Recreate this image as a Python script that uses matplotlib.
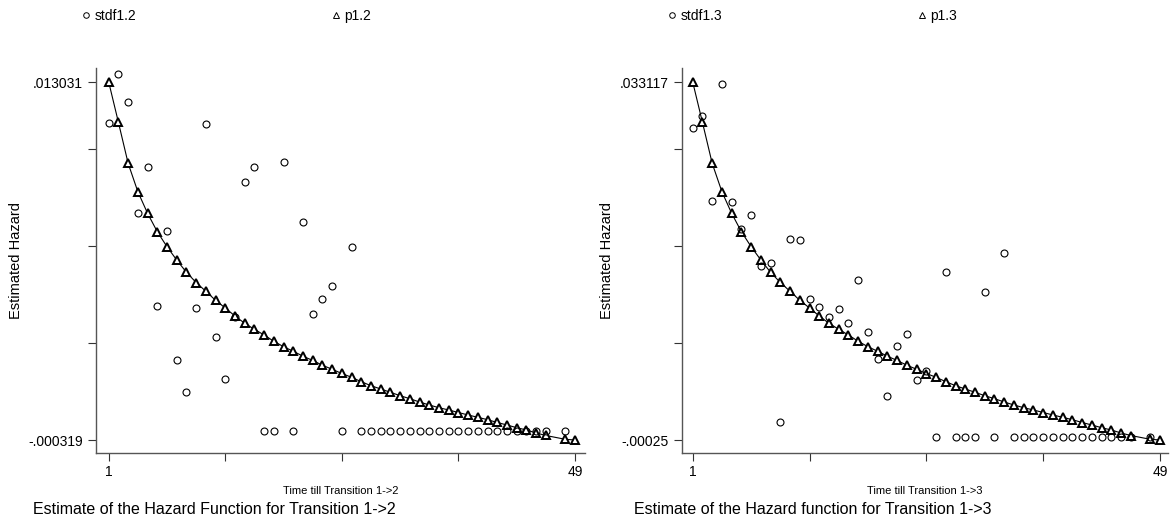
import matplotlib
matplotlib.use("Agg")
import matplotlib.pyplot as plt
from matplotlib.lines import Line2D
import numpy as np

plt.rcParams['font.family'] = ['Liberation Sans', 'DejaVu Sans']

nan = np.nan
t = np.arange(1, 50)

# transition 1->2
stdf12 = [0.011491, 0.013329, 0.012296, 0.008135, 0.009872, 0.004689, 0.007475,
          0.002664, 0.001471, 0.004603, 0.011453, 0.003533, 0.001956, 0.004268,
          0.009291, 0.009872, 0.0, 0.0, 0.010059, 0.0, 0.007799, 0.004380,
          0.004928, 0.005424, 0.0, 0.006889, 0.0, 0.0, 0.0, 0.0, 0.0, 0.0,
          0.0, 0.0, 0.0, 0.0, 0.0, 0.0, 0.0, 0.0, 0.0, 0.0, 0.0, 0.0, 0.0,
          0.0, nan, 0.0, nan]
p12 = [0.013031, 0.011528, 0.009999, 0.008940, 0.008135, 0.007449, 0.006889,
       0.006393, 0.005935, 0.005554, 0.005226, 0.004890, 0.004603, 0.004305,
       0.004033, 0.003809, 0.003596, 0.003362, 0.003160, 0.002989, 0.002806,
       0.002646, 0.002470, 0.002317, 0.002161, 0.002019, 0.001855, 0.001706,
       0.001583, 0.001460, 0.001333, 0.001221, 0.001098, 0.000986, 0.000885,
       0.000800, 0.000706, 0.000613, 0.000527, 0.000438, 0.000334, 0.000240,
       0.000140, 0.000054, -0.000058, -0.000151, nan, -0.000293, -0.000319]

# transition 1->3
stdf13 = [0.028802, 0.029976, 0.022026, 0.032903, 0.021905, 0.019416, 0.020721,
          0.015968, 0.016219, 0.001456, 0.018484, 0.018363, 0.012873, 0.012146,
          0.011186, 0.011960, 0.010627, 0.014709, 0.009844, 0.007272, 0.003851,
          0.008539, 0.009630, 0.005342, 0.006209, 0.0, 0.015436, 0.0, 0.0, 0.0,
          0.013498, 0.0, 0.017151, 0.0, 0.0, 0.0, 0.0, 0.0, 0.0, 0.0, 0.0,
          0.0, 0.0, 0.0, 0.0, 0.0, nan, 0.0, nan]
p13 = [0.033117, 0.029361, 0.025540, 0.022892, 0.020879, 0.019165, 0.017766,
       0.016527, 0.015380, 0.014430, 0.013609, 0.012771, 0.012053, 0.011307,
       0.010627, 0.010068, 0.009536, 0.008949, 0.008446, 0.008017, 0.007561,
       0.007160, 0.006722, 0.006340, 0.005948, 0.005594, 0.005184, 0.004811,
       0.004503, 0.004196, 0.003879, 0.003599, 0.003292, 0.003012, 0.002761,
       0.002546, 0.002313, 0.002080, 0.001866, 0.001642, 0.001381, 0.001148,
       0.000896, 0.000682, 0.000402, 0.000169, nan, -0.000185, -0.00025]

panels = [
    (stdf12, p12, "stdf1.2", "p1.2", ".013031", "-.000319",
     "Time till Transition 1->2", "Estimate of the Hazard Function for Transition 1->2"),
    (stdf13, p13, "stdf1.3", "p1.3", ".033117", "-.00025",
     "Time till Transition 1->3", "Estimate of the Hazard function for Transition 1->3"),
]

fig = plt.figure(figsize=(11.71, 5.27), dpi=100)
W, H = 1171, 527
# axes box (px) and where t=1 / t=49 fall (px)
boxes = [(96, 585), (682, 1168)]
t_px = [(108.7, 575.0), (692.7, 1160.0)]
title_x = [214, 813]

for i, (sd, p, lsd, lp, ytop, ybot, xlab, title) in enumerate(panels):
    x0, x1 = boxes[i]
    a, b = t_px[i]
    ax = fig.add_axes([x0 / W, (H - 453) / H, (x1 - x0) / W, (453 - 68) / H])
    sd = np.array(sd)
    p = np.array(p)
    ymax, ymin = float(ytop), float(ybot)
    pp = (ymax - ymin) / 358.0

    ok = ~np.isnan(p)
    ax.plot(t[ok], p[ok], color='black', lw=0.8, zorder=2)
    ax.plot(t, p, ls='none', marker='^', ms=6, mfc='white', mec='black', mew=1.4, zorder=3)
    ax.plot(t, sd, ls='none', marker='o', ms=5, mfc='none', mec='black', mew=0.8, zorder=4)

    px_per_t = (b - a) / 48.0
    ax.set_xlim(1 - (a - x0) / px_per_t, 49 + (x1 - b) / px_per_t)
    ax.set_ylim(ymin - 13 * pp, ymax + 14 * pp)

    ax.set_xticks([1, 13, 25, 37, 49])
    ax.set_xticklabels(["1", "", "", "", "49"])
    ax.set_yticks([ymin, ymin + 97 * pp, ymin + 194 * pp, ymin + 291 * pp, ymax])
    ax.set_yticklabels([ybot, "", "", "", ytop])
    ax.tick_params(direction='out', length=6, width=0.8, labelsize=10, color='#333333')
    ax.tick_params(axis='x', pad=3)

    for s in ['top', 'right']:
        ax.spines[s].set_visible(False)
    for s in ['left', 'bottom']:
        ax.spines[s].set_color('#555555')
        ax.spines[s].set_linewidth(1.0)

    ax.set_ylabel("Estimated Hazard", fontsize=10.5, labelpad=4)
    ax.set_xlabel(xlab, fontsize=8, labelpad=5)

    handles = [Line2D([], [], ls='none', marker='o', ms=4, mfc='none', mec='black', mew=0.7),
               Line2D([], [], ls='none', marker='^', ms=4, mfc='none', mec='black', mew=0.7)]
    fig.legend(handles, [lsd, lp], loc='center left', ncol=2, frameon=False,
               bbox_to_anchor=((x0 - 28) / W, (H - 16) / H), fontsize=10,
               handletextpad=0.2, handlelength=0.8, columnspacing=14)

    fig.text(title_x[i] / W, (H - 510) / H, title, ha='center', va='center', fontsize=11.5)

fig.savefig("out.png", dpi=100)
